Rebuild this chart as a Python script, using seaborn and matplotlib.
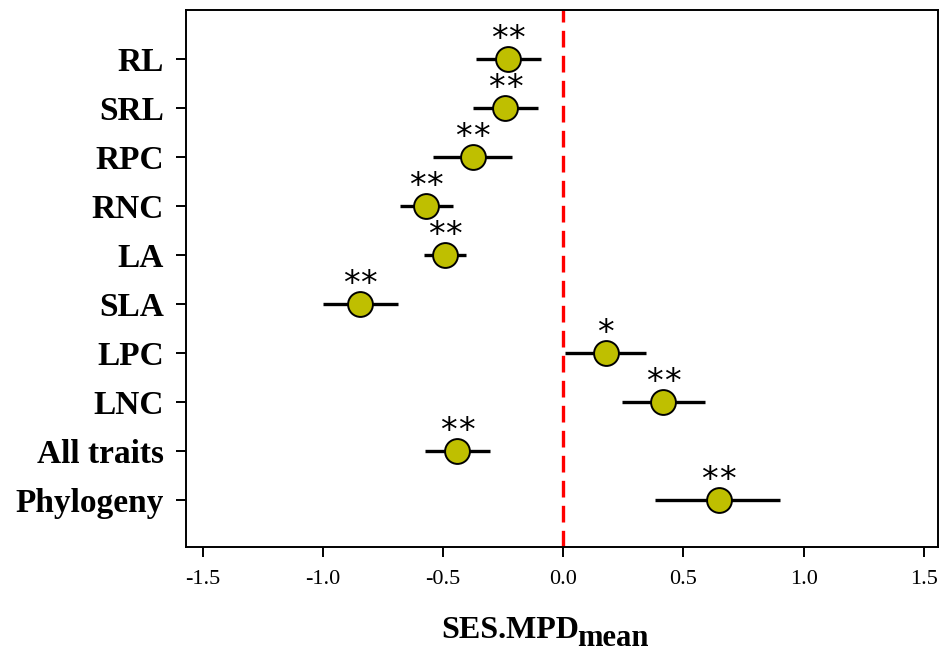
import numpy as np
import pandas as pd
import matplotlib
matplotlib.use('Agg')
import matplotlib.pyplot as plt
import seaborn as sns

# values (top to bottom)
traits = ['RL', 'SRL', 'RPC', 'RNC', 'LA', 'SLA', 'LPC', 'LNC', 'All traits', 'Phylogeny']
ses_mean = [-0.230, -0.242, -0.378, -0.573, -0.493, -0.846, 0.176, 0.416, -0.441, 0.646]
ci_low = [-0.362, -0.375, -0.543, -0.681, -0.581, -0.999, 0.006, 0.246, -0.575, 0.383]
ci_high = [-0.093, -0.106, -0.213, -0.461, -0.404, -0.689, 0.346, 0.590, -0.304, 0.903]
n_stars = [2, 2, 2, 2, 2, 2, 1, 2, 2, 2]
xticks = [-1.5, -1.0, -0.5, 0.0, 0.5, 1.0, 1.5]

df = pd.DataFrame({
    'trait': traits,
    'pos': np.arange(len(traits)),
    'ses': ses_mean,
    'low': ci_low,
    'high': ci_high,
    'stars': n_stars,
})

sns.set_style('ticks')
plt.rcParams['font.family'] = ['Liberation Serif', 'DejaVu Serif']
plt.rcParams['text.color'] = 'black'
plt.rcParams['xtick.color'] = 'black'
plt.rcParams['ytick.color'] = 'black'

fig = plt.figure(figsize=(9.4, 6.51), dpi=100)
ax = fig.add_axes([0.198, 0.160, 0.800, 0.825])

# zero reference line
ax.axvline(0, color='#FF0000', lw=2.4, dashes=(5, 2.5), zorder=1)

# confidence intervals
ax.hlines(df['pos'], df['low'], df['high'], color='black', lw=2.4, zorder=2)

sns.scatterplot(data=df, x='ses', y='pos', s=320, color='#BFBF00',
                edgecolor='black', linewidth=1.4, zorder=3, ax=ax, legend=False)

# significance stars, drawn one by one to get the wide spacing
for _, row in df.iterrows():
    k = int(row['stars'])
    offsets = (np.arange(k) - (k - 1) / 2) * 12.5
    for dx in offsets:
        ax.annotate('*', xy=(row['ses'], row['pos']), xytext=(dx, 7.0),
                    textcoords='offset points', ha='center', va='baseline',
                    fontsize=24, family='DejaVu Sans', color='black')

ax.set_xlim(-1.57, 1.56)
ax.set_ylim(9.96, -1.0)
ax.set_xticks(xticks)
ax.set_xticklabels([f'{t:.1f}' for t in xticks], fontsize=16)
ax.set_yticks(df['pos'])
ax.set_yticklabels(df['trait'], fontsize=24, fontweight='bold')
ax.tick_params(axis='both', direction='out', length=7, width=1.4, color='black')
ax.tick_params(axis='x', pad=10)
ax.tick_params(axis='y', pad=9)
for sp in ax.spines.values():
    sp.set_linewidth(1.4)
    sp.set_color('black')
ax.set_xlabel('')
ax.set_ylabel('')

# x label with a full-size, lowered subscript
fig.canvas.draw()
renderer = fig.canvas.get_renderer()
main = fig.text(0.5, 0.020, 'SES.MPD', fontsize=23, fontweight='bold',
                ha='left', va='baseline')
w_main = main.get_window_extent(renderer).width / fig.bbox.width
sub = fig.text(0.5 + w_main - 0.002, 0.008, 'mean', fontsize=22, fontweight='bold',
               ha='left', va='baseline')
w_sub = sub.get_window_extent(renderer).width / fig.bbox.width
shift = 0.580 - (0.5 + (w_main + w_sub - 0.002) / 2)
main.set_x(main.get_position()[0] + shift)
sub.set_x(sub.get_position()[0] + shift)

fig.savefig('out.png', dpi=100)
